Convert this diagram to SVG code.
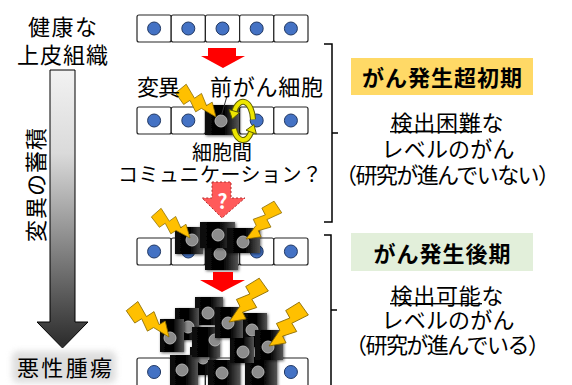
<svg xmlns="http://www.w3.org/2000/svg" width="572" height="385" viewBox="0 0 572 385">
<defs>
<style>
text{font-family:"Noto Sans CJK JP","Noto Sans",sans-serif;fill:#000;}
.lbl{font-size:22px;text-anchor:middle;dominant-baseline:central;}
.sm{font-size:20px;text-anchor:middle;dominant-baseline:central;}
.head{font-size:22px;font-weight:bold;text-anchor:middle;dominant-baseline:central;}
.cell{fill:#fff;stroke:#262626;stroke-width:1.2;}
.nb{fill:#4472C4;stroke:#203864;stroke-width:1;}
.ng{fill:#8c8c8c;stroke:#b3b3b3;stroke-width:1;}
.blk{fill:url(#blkGrad);filter:url(#soft);}
.bolt{fill:#FFC000;stroke:#8a6a00;stroke-width:0.8;}
.brk{fill:none;stroke:#000;stroke-width:1.5;}
.red{fill:#FF0000;}
.uline{fill:#000;}
</style>
<linearGradient id="blkGrad" x1="0" y1="0" x2="1" y2="0">
<stop offset="0" stop-color="#0a0a0a"/>
<stop offset="0.55" stop-color="#000"/>
<stop offset="1" stop-color="#555"/>
</linearGradient>
<linearGradient id="progGrad" x1="0" y1="0" x2="0" y2="1">
<stop offset="0" stop-color="#f2f2f2"/>
<stop offset="0.3" stop-color="#dadada"/>
<stop offset="1" stop-color="#2a2a2a"/>
</linearGradient>
<filter id="soft" x="-30%" y="-30%" width="160%" height="160%">
<feDropShadow dx="1" dy="1" stdDeviation="1.5" flood-color="#000" flood-opacity="0.6"/>
</filter>
<filter id="haze" x="-20%" y="-40%" width="140%" height="180%">
<feGaussianBlur stdDeviation="3"/>
</filter>
<!-- lightning bolt: tip at origin, tail 50px up -->
<path id="bolt" class="bolt" d="M-11,-50 L4,-48 L-1,-31 L8,-29 L2,-16 L9,-14 L0,0 L-4,-18 L-11,-20 L-6,-33 L-14,-35 Z"/>
</defs>

<!-- progression arrow on the left -->
<g id="progression">
<polygon points="50,70 75,70 75,322 88,322 62.5,348 37,322 50,322" fill="url(#progGrad)" stroke="#000" stroke-width="1"/>
<text class="lbl" transform="translate(34,185) rotate(-90)" textLength="114">変異の蓄積</text>
</g>

<g id="label-healthy">
<text class="lbl" x="62.5" y="25" textLength="69">健康な</text>
<text class="lbl" x="62.5" y="52.5" textLength="91">上皮組織</text>
</g>

<g id="label-malignant">
<rect x="12" y="351" width="104" height="32" rx="6" fill="#d0d0d0" opacity="0.7" filter="url(#haze)"/>
<text class="lbl" x="64.5" y="366" textLength="95">悪性腫瘍</text>
</g>

<!-- row 1: healthy epithelium -->
<g id="row1">
<rect class="cell" x="137" y="15" width="34.2" height="27" rx="2"/>
<rect class="cell" x="171.2" y="15" width="34.2" height="27" rx="2"/>
<rect class="cell" x="205.4" y="15" width="34.2" height="27" rx="2"/>
<rect class="cell" x="239.6" y="15" width="34.2" height="27" rx="2"/>
<rect class="cell" x="273.8" y="15" width="34.2" height="27" rx="2"/>
<circle class="nb" cx="154.1" cy="28.5" r="6.5"/>
<circle class="nb" cx="188.3" cy="28.5" r="6.5"/>
<circle class="nb" cx="222.5" cy="28.5" r="6.5"/>
<circle class="nb" cx="256.7" cy="28.5" r="6.5"/>
<circle class="nb" cx="290.9" cy="28.5" r="6.5"/>
</g>

<!-- row 2: one precancerous cell -->
<g id="row2">
<rect class="cell" x="137" y="107" width="34.2" height="27" rx="2"/>
<rect class="cell" x="171.2" y="107" width="34.2" height="27" rx="2"/>
<rect class="cell" x="239.6" y="107" width="34.2" height="27" rx="2"/>
<rect class="cell" x="273.8" y="107" width="34.2" height="27" rx="2"/>
<circle class="nb" cx="154.1" cy="120.5" r="6.5"/>
<circle class="nb" cx="188.3" cy="120.5" r="6.5"/>
<circle class="nb" cx="256.7" cy="120.5" r="6.5"/>
<circle class="nb" cx="290.9" cy="120.5" r="6.5"/>
<rect class="blk" x="205" y="105" width="34" height="30"/>
<circle class="ng" cx="221" cy="121" r="6"/>
<line x1="227" y1="96" x2="221.5" y2="115" stroke="#333" stroke-width="1"/>
<use href="#bolt" transform="translate(216,117) rotate(-47) scale(0.92)"/>
</g>

<!-- cell-to-cell communication loop -->
<g id="comm-loop" fill="none">
<path d="M253,119.3 A10,19 0 0 0 234.3,111.5" stroke="#5c5c00" stroke-width="6"/>
<path d="M253,119.3 A10,19 0 0 0 234.3,111.5" stroke="#EEE600" stroke-width="4"/>
<path d="M233.9,129 A10,19 0 0 0 251.2,131.9" stroke="#5c5c00" stroke-width="6"/>
<path d="M233.9,129 A10,19 0 0 0 251.2,131.9" stroke="#EEE600" stroke-width="4"/>
<polygon points="232.3,119 239.6,112.6 229,109.6" fill="#EEE600" stroke="#5c5c00" stroke-width="1"/>
<polygon points="253.9,124.5 256.4,134 246,130.2" fill="#EEE600" stroke="#5c5c00" stroke-width="1"/>
</g>

<g id="label-mutation">
<text class="lbl" x="158.5" y="85" textLength="43">変異</text>
</g>
<g id="label-precancer">
<text class="lbl" x="266.5" y="85" textLength="113">前がん細胞</text>
</g>
<g id="label-communication">
<text class="sm" x="222" y="151.5" textLength="60">細胞間</text>
<text class="sm" x="220" y="173.5" textLength="204">コミュニケーション？</text>
</g>

<!-- row 3: small cluster -->
<g id="row3">
<rect class="cell" x="137" y="238" width="34.2" height="27" rx="2"/>
<rect class="cell" x="171.2" y="238" width="34.2" height="27" rx="2"/>
<rect class="cell" x="205.4" y="238" width="34.2" height="27" rx="2"/>
<rect class="cell" x="239.6" y="238" width="34.2" height="27" rx="2"/>
<rect class="cell" x="273.8" y="238" width="34.2" height="27" rx="2"/>
<circle class="nb" cx="154.1" cy="251.5" r="6.5"/>
<circle class="nb" cx="188.3" cy="251.5" r="6.5"/>
<circle class="nb" cx="256.7" cy="251.5" r="6.5"/>
<circle class="nb" cx="290.9" cy="251.5" r="6.5"/>
<rect class="blk" x="205" y="245" width="33" height="25"/>
<circle class="ng" cx="220" cy="254" r="6"/>
<rect class="blk" x="175" y="227" width="28" height="27"/>
<circle class="ng" cx="192" cy="240" r="6"/>
<rect class="blk" x="200" y="222" width="35" height="26"/>
<circle class="ng" cx="218" cy="235" r="6"/>
<rect class="blk" x="227" y="228" width="33" height="25"/>
<circle class="ng" cx="243" cy="242" r="6"/>
<use href="#bolt" transform="translate(190,238) rotate(-49) scale(0.86)"/>
<use href="#bolt" transform="translate(246,239) rotate(49) scale(0.92)"/>
</g>

<!-- row 4: tumour mass -->
<g id="row4">
<rect class="cell" x="137" y="358" width="34.2" height="30" rx="2"/>
<rect class="cell" x="171.2" y="358" width="34.2" height="30" rx="2"/>
<rect class="cell" x="205.4" y="358" width="34.2" height="30" rx="2"/>
<rect class="cell" x="239.6" y="358" width="34.2" height="30" rx="2"/>
<rect class="cell" x="273.8" y="358" width="34.2" height="30" rx="2"/>
<circle class="nb" cx="154.1" cy="372" r="6.5"/>
<circle class="nb" cx="290.9" cy="372" r="6.5"/>
<rect class="blk" x="190" y="347" width="26" height="28"/><circle class="ng" cx="203" cy="358" r="6"/>
<rect class="blk" x="170" y="355" width="28" height="32"/><circle class="ng" cx="182" cy="370" r="6"/>
<rect class="blk" x="208" y="360" width="32" height="28"/><circle class="ng" cx="222" cy="373" r="6"/>
<rect class="blk" x="245" y="357" width="32" height="30"/><circle class="ng" cx="258" cy="372" r="6"/>
<rect class="blk" x="195" y="297" width="28" height="28"/><circle class="ng" cx="208" cy="313" r="6"/>
<rect class="blk" x="175" y="308" width="24" height="32"/><circle class="ng" cx="188" cy="327" r="6"/>
<rect class="blk" x="243" y="313" width="24" height="34"/><circle class="ng" cx="252" cy="330" r="6"/>
<rect class="blk" x="192" y="327" width="28" height="30"/><circle class="ng" cx="215" cy="340" r="6"/>
<rect class="blk" x="230" y="337" width="24" height="26"/><circle class="ng" cx="243" cy="352" r="6"/>
<rect class="blk" x="215" y="307" width="28" height="31"/><circle class="ng" cx="228" cy="323" r="6"/>
<rect class="blk" x="160" y="319" width="24" height="33"/><circle class="ng" cx="170" cy="338" r="6"/>
<rect class="blk" x="255" y="330" width="28" height="30"/><circle class="ng" cx="268" cy="347" r="6"/>
<use href="#bolt" transform="translate(169,337) rotate(-46) scale(0.98)"/>
<use href="#bolt" transform="translate(229,322) rotate(47) scale(1.04)"/>
<use href="#bolt" transform="translate(269,346) rotate(47) scale(1.04)"/>
</g>

<!-- connectors between stages -->
<g id="connectors">
<polygon class="red" points="208,48 236,48 236,56 245,56 223,68 201,56 208,56"/>
<polygon points="212,182 231,182 231,198 245,198 222,218 202,198 212,198" fill="#FF5A5A" stroke="#b03030" stroke-width="1" stroke-dasharray="2,2"/>
<text x="222.5" y="200" font-size="20" font-weight="bold" text-anchor="middle" dominant-baseline="central" style="fill:#fff">?</text>
<polygon class="red" points="213,272 233,272 233,280 245,280 222,292 200,280 213,280"/>
<path class="brk" d="M324,44 H332 V222 H324 M332,133 H338"/>
<path class="brk" d="M324,235 H331 V390 M331,310 H337"/>
</g>

<!-- stage descriptions -->
<g id="stage-early">
<rect x="351" y="58" width="182" height="37" fill="#FFD966"/>
<text class="head" x="442" y="76" textLength="160">がん発生超初期</text>
<text class="lbl" x="447" y="121" textLength="113">検出困難な</text>
<rect class="uline" x="390" y="131" width="92" height="1.4"/>
<text class="lbl" x="448" y="147" textLength="133">レベルのがん</text>
<text class="lbl" x="447.5" y="173" textLength="225">（研究が進んでいない）</text>
</g>
<g id="stage-late">
<rect x="351" y="233" width="182" height="38" fill="#E2EFDA"/>
<text class="head" x="442" y="252" textLength="137">がん発生後期</text>
<text class="lbl" x="447" y="293.5" textLength="113">検出可能な</text>
<rect class="uline" x="390" y="303" width="92" height="1.4"/>
<text class="lbl" x="448" y="317.5" textLength="133">レベルのがん</text>
<text class="lbl" x="447.5" y="343" textLength="205">（研究が進んでいる）</text>
</g>
</svg>
